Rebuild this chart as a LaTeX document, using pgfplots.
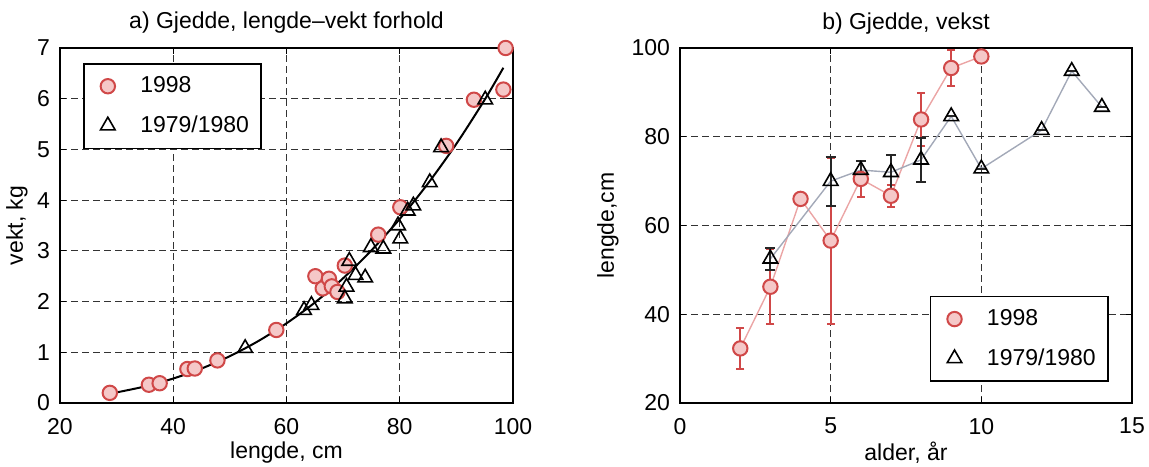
\documentclass[border=0pt]{standalone}
\usepackage{pgfplots}
\pgfplotsset{compat=1.18}
\usepackage{fontspec}
\setmainfont{Liberation Sans}
\definecolor{cred}{HTML}{D04848}
\definecolor{cfill}{HTML}{F5C8C8}
\definecolor{lred}{HTML}{EBA5A5}
\definecolor{lgrey}{HTML}{A3A9B8}
\definecolor{gridc}{HTML}{333333}
\pgfplotsset{
 mystyle/.style={
  scale only axis,
  clip=false,
  font=\fontsize{11.5}{13}\selectfont,
  /pgf/number format/assume math mode=true,
  axis line style={line width=0.9pt},
  tick align=inside,
  major tick length=3pt,
  minor tick length=1.5pt,
  tick style={black, line width=0.6pt},
  grid=major,
  major grid style={dash pattern=on 3.5pt off 2pt, line width=0.6pt, gridc},
  title style={at={(0.5,1)}, anchor=base, yshift=3.5pt},
  xticklabel style={yshift=-4pt},
  yticklabel style={xshift=-1.5pt},
  xlabel style={at={(axis description cs:0.5,0)}, anchor=center, yshift=-25pt},
  legend cell align=left,
  legend style={draw=black, line width=0.8pt, inner xsep=4pt, inner ysep=4.5pt, row sep=6pt, font=\fontsize{11.5}{13}\selectfont},
 },
 circ/.style={only marks, mark=*, mark size=3.6pt, mark options={draw=cred, fill=cfill, line width=1pt},
   legend image code/.code={\path[draw=none,fill=none] (-0.28cm,0cm) -- (0.5cm,0cm); \draw[##1] plot coordinates {(0cm,0cm)};}},
 tri/.style={only marks, mark=triangle, mark size=4.2pt, mark options={draw=black, fill=white, fill opacity=0, line width=0.8pt},
   legend image code/.code={\path[draw=none,fill=none] (-0.28cm,0cm) -- (0.5cm,0cm); \draw[##1] plot coordinates {(0cm,0cm)};}},
}
\begin{document}
\begin{tikzpicture}
\useasboundingbox (0,0) rectangle (574.5pt,233pt);
\begin{axis}[mystyle,
  at={(30pt,31.5pt)}, anchor=south west,
  width=226.5pt, height=177.5pt,
  xmin=20, xmax=100, ymin=0, ymax=7,
  xtick={20,40,60,80,100}, ytick={0,1,2,3,4,5,6,7},
  title={a) Gjedde, lengde–vekt forhold},
  xlabel={lengde, cm}, ylabel={vekt, kg},
  ylabel style={at={(axis description cs:0,0.5)}, anchor=center, yshift=21.5pt},
  legend style={at={(0.051,0.958)}, anchor=north west},
]
\addplot[circ] coordinates {
 (28.8,0.20) (35.7,0.36) (37.6,0.39) (42.5,0.67) (43.8,0.68) (47.8,0.84)
 (58.2,1.44) (65.1,2.50) (66.4,2.26) (67.5,2.45) (68.0,2.30) (69.0,2.19)
 (70.3,2.71) (76.2,3.32) (80.1,3.86) (88.2,5.07) (93.1,5.98) (98.7,7.00) (98.3,6.18)
};
\addlegendentry{1998}
\addplot[tri] coordinates {
 (52.7,1.08) (63.1,1.83) (64.4,1.93) (70.3,2.06) (70.6,2.29) (71.1,2.80)
 (72.2,2.52) (73.9,2.47) (74.9,3.07) (77.1,3.04) (79.7,3.50) (80.1,3.24)
 (81.4,3.79) (82.4,3.89) (85.3,4.35) (87.3,5.04) (95.1,5.98)
};
\addlegendentry{1979/1980}
\addplot[black, line width=1pt, smooth, forget plot] coordinates {
 (28.5,0.18) (30,0.209) (35,0.327) (40,0.483) (45,0.680) (50,0.924) (55,1.220)
 (60,1.571) (65,1.98) (70,2.46) (75,3.01) (80,3.63) (85,4.33) (90,5.11) (95,5.98) (98.3,6.61)
};
\end{axis}
\begin{axis}[mystyle,
  at={(340pt,31.5pt)}, anchor=south west,
  width=226pt, height=177.5pt,
  xmin=0, xmax=15, ymin=20, ymax=100,
  xtick={0,5,10,15}, ytick={20,40,60,80,100},
  title={b) Gjedde, vekst},
  xlabel={alder, år}, ylabel={lengde,cm},
  ylabel style={at={(axis description cs:0,0.5)}, anchor=center, yshift=36pt},
  legend style={at={(0.948,0.059)}, anchor=south east},
]
\addplot[lred, line width=0.7pt, forget plot] coordinates {
 (2,32.3) (3,46.2) (4,66.0) (5,56.6) (6,70.5) (7,66.7) (8,83.9) (9,95.5) (10,98.1)
};
\addplot[lgrey, line width=0.7pt, forget plot] coordinates {
 (3,52.5) (5,70.0) (6,72.5) (7,72.0) (8,74.8) (9,84.6) (10,72.8) (12,81.5) (13,94.8) (14,86.7)
};
\addplot[circ, error bars/.cd, y dir=both, y explicit,
  error bar style={cred, line width=1pt},
  error mark options={rotate=90, mark size=2pt, cred, line width=1pt}] coordinates {
 (2,32.3) +- (0,4.6)
 (3,46.2) +- (0,8.5)
 (4,66.0) +- (0,0)
 (5,56.6) +- (0,18.7)
 (6,70.5) +- (0,4.0)
 (7,66.7) +- (0,2.5)
 (8,83.9) +- (0,6.0)
 (9,95.5) +- (0,4.0)
 (10,98.1) +- (0,1.5)
};
\addlegendentry{1998}
\addplot[tri, error bars/.cd, y dir=both, y explicit,
  error bar style={black!85, line width=1pt},
  error mark options={rotate=90, mark size=2.5pt, black!85, line width=1pt}] coordinates {
 (3,52.5) +- (0,2.5)
 (5,70.0) +- (0,5.5)
 (6,72.5) +- (0,2.0)
 (7,72.0) +- (0,4.0)
 (8,74.8) +- (0,5.0)
 (9,84.6) +- (0,0)
 (10,72.8) +- (0,0)
 (12,81.5) +- (0,0)
 (13,94.8) +- (0,0)
 (14,86.7) +- (0,0)
};
\addlegendentry{1979/1980}
\end{axis}
\end{tikzpicture}
\end{document}
